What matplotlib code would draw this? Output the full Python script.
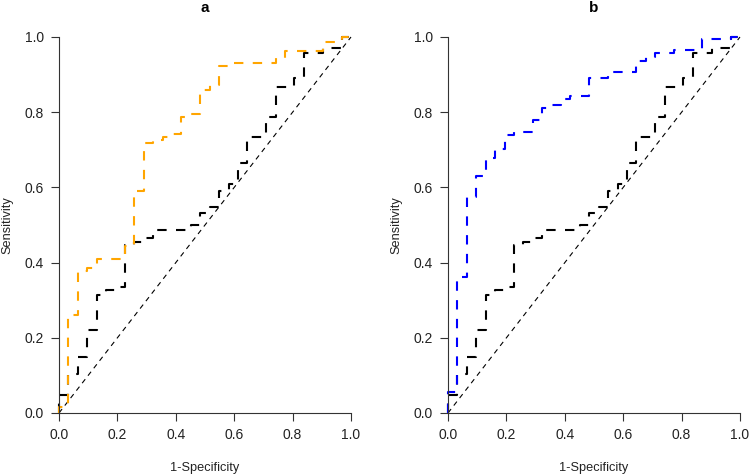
import numpy as np
import matplotlib
matplotlib.use("Agg")
import matplotlib.pyplot as plt

plt.rcParams['font.family'] = ['Liberation Sans', 'DejaVu Sans']

# number of controls -> step size on the 1-specificity axis
n_ctrl = 31

# each curve: end of horizontal run (in control counts) and sensitivity level on that run
ref_k = [0, 1, 2, 3, 4, 5, 6, 7, 8, 9, 10, 14, 15, 16, 17, 18, 19, 20, 22, 23, 25, 26, 28, 30, 31]
ref_sens = [0, 0.047, 0.103, 0.149, 0.22, 0.314, 0.327, 0.336, 0.447, 0.456, 0.465, 0.487,
            0.50, 0.532, 0.548, 0.59, 0.61, 0.664, 0.735, 0.788, 0.868, 0.89, 0.957, 0.97, 1.0]

a_k = [0, 1, 2, 3, 4, 7, 8, 9, 10, 11, 12, 13, 14, 15, 16, 17, 18, 23, 24, 28, 30, 31]
a_sens = [0, 0.016, 0.26, 0.378, 0.386, 0.409, 0.444, 0.591, 0.717, 0.726, 0.735, 0.741,
          0.788, 0.795, 0.86, 0.873, 0.922, 0.931, 0.945, 0.962, 0.986, 1.0]

b_k = [0, 1, 2, 3, 4, 5, 6, 7, 9, 10, 11, 12, 13, 15, 17, 20, 21, 22, 24, 27, 30, 31]
b_sens = [0, 0.056, 0.362, 0.575, 0.631, 0.679, 0.701, 0.74, 0.748, 0.78, 0.811, 0.82,
          0.835, 0.844, 0.891, 0.908, 0.935, 0.948, 0.958, 0.965, 0.994, 1.0]

panels = [("a", a_k, a_sens, "#FFA500"), ("b", b_k, b_sens, "#0000FF")]
ticks = [0.0, 0.2, 0.4, 0.6, 0.8, 1.0]

fig = plt.figure(figsize=(7.49, 4.75), dpi=100)
lefts = [59 / 749, 448 / 749]
w = 292 / 749
bottom = 1 - 413 / 475
h = 376 / 475

for (name, k, sens, col), left in zip(panels, lefts):
    ax = fig.add_axes([left, bottom, w, h])
    # reference diagonal
    ax.plot([0, 1], [0, 1], color="black", lw=0.8, ls=(0, (4.5, 4)), clip_on=False)
    # shared black curve
    ax.plot(np.array(ref_k) / n_ctrl, ref_sens, drawstyle="steps-pre", color="black",
            lw=1.5, ls=(0, (4.5, 4.5)), clip_on=False)
    ax.plot(np.array(k) / n_ctrl, sens, drawstyle="steps-pre", color=col,
            lw=1.5, ls=(0, (4.5, 4.5)), clip_on=False)
    ax.set_xlim(0, 1)
    ax.set_ylim(0, 1)
    ax.set_xticks(ticks)
    ax.set_yticks(ticks)
    ax.set_xticklabels(["%.1f" % t for t in ticks])
    ax.set_yticklabels(["%.1f" % t for t in ticks])
    for s in ["top", "right"]:
        ax.spines[s].set_visible(False)
    for s in ["left", "bottom"]:
        ax.spines[s].set_color("#333333")
        ax.spines[s].set_linewidth(0.8)
    ax.tick_params(direction="out", length=6, width=0.8, color="#333333",
                   labelsize=10, pad=5, labelcolor="#222222")
    ax.set_xlabel("1-Specificity", fontsize=9.2, color="#222222", va="center")
    ax.xaxis.set_label_coords(0.5, -(467.7 - 413) / 376)
    ax.set_ylabel("Sensitivity", fontsize=9.2, color="#222222", va="center")
    ax.yaxis.set_label_coords(-(59 - 7) / 292, 0.5)
    ax.text(0.5, 1 + (37 - 8) / 376, name, transform=ax.transAxes, ha="center", va="center",
            fontsize=11, fontweight="bold")

fig.savefig("out.png", dpi=100)
